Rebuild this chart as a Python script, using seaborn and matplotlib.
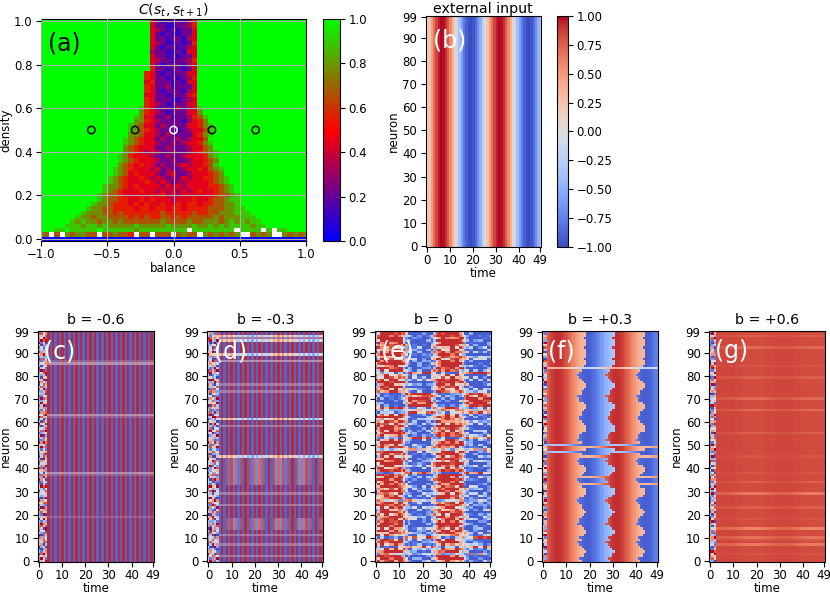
import numpy as np
import matplotlib
matplotlib.use("Agg")
import matplotlib.pyplot as plt
from matplotlib.colors import LinearSegmentedColormap
import seaborn as sns

# ---------------- data ----------------
# (a) C(s_t, s_t+1) on the balance x density grid.
# one string per density row, top = density 1.00, bottom = 0.00
# digit d -> value d/9, '.' -> no data (white)
corr_rows = [
    "9999999999 9999999999 9421212134 9999999999 99999999999",
    "9999999999 9999999999 9422112235 9999999999 99999999999",
    "9999999999 9999999999 9432121224 9999999999 99999999999",
    "9999999999 9999999999 9421211224 9999999999 99999999999",
    "9999999999 9999999999 9422122134 9999999999 99999999999",
    "9999999999 9999999999 9432112125 9999999999 99999999999",
    "9999999999 9999999999 9421221234 9999999999 99999999999",
    "9999999999 9999999999 9322112144 9999999999 99999999999",
    "9999999999 9999999999 9422121224 9999999999 99999999999",
    "9999999999 9999999999 9432212235 9999999999 99999999999",
    "9999999999 9999999999 9421222134 9999999999 99999999999",
    "9999999999 9999999999 9522122124 9999999999 99999999999",
    "9999999999 9999999999 5421212244 9999999999 99999999999",
    "9999999999 9999999999 5422121235 9999999999 99999999999",
    "9999999999 9999999999 4522212144 9999999999 99999999999",
    "9999999999 9999999999 5422312224 9999999999 99999999999",
    "9999999999 9999999999 5421222134 9999999999 99999999999",
    "9999999999 9999999999 4422122245 9999999999 99999999999",
    "9999999999 9999999999 5422211234 9999999999 99999999999",
    "9999999999 9999999999 5432122244 9999999999 99999999999",
    "9999999999 9999999998 5422213234 8999999999 99999999999",
    "9999999999 9999999997 5432122244 7999999999 99999999999",
    "9999999999 9999999987 4422312235 6899999999 99999999999",
    "9999999999 9999999977 5432222134 5799999999 99999999999",
    "9999999999 9999999876 4423222244 5789999999 99999999999",
    "9999999999 9999999876 5432221234 4689999999 99999999999",
    "9999999999 9999999776 4432322224 5789999999 99999999999",
    "9999999999 9999998765 4423223234 4699999999 99999999999",
    "9999999999 9999998765 4432232344 5789999999 99999999999",
    "9999999999 9999997654 4422322234 4679999999 99999999999",
    "9999999999 9999997654 3432232234 5678999999 99999999999",
    "9999999999 9999987544 4322322344 4578999999 99999999999",
    "9999999999 9999987654 4432232234 4567999999 99999999999",
    "9999999999 9999976545 4423223434 4568999999 99999999999",
    "9999999999 9999876544 4342322344 5467899999 99999999999",
    "9999999999 9999876454 4432342234 4456799999 99999999999",
    "9999999999 9998765445 4343232434 4556789999 99999999999",
    "9999999999 9998765444 5434323344 4456789999 99999999999",
    "9999999999 9987765454 4443434344 4455678999 99999999999",
    "9999999999 9987654445 4434343434 5445678999 99999999999",
    "9999999999 9876654444 4445343444 4445667899 99999999999",
    "9999999999 9876655445 4544434445 4456678899 99999999999",
    "9999999999 8776555454 5445445455 4556677899 99999999999",
    "9999999998 7766555545 5455455455 5566677889 99999999999",
    "9999999987 7766565555 5556555556 5566777888 99999999999",
    "9999999877 6776666565 6556656566 6667677788 89999999999",
    "9999998787 7677676666 6667666676 6777678787 88999999999",
    "9999988878 8787777787 7777877778 7787878888 78899999999",
    "9998898888 8988888878 88888888.8 8888888.88 88.8.889999",
    "76.6.76776 6.667665.6 6.666.6766 .7676767.. 6767..76767",
    "0000000000 0000000000 0000000000 0000000000 00000000000",
]
balance_step = 0.04
density_step = 0.02
balance_ticks = [-1.0, -0.5, 0.0, 0.5, 1.0]
density_ticks = [0.0, 0.2, 0.4, 0.6, 0.8, 1.0]
marked_balance = [-0.62, -0.29, 0.0, 0.29, 0.62]
marked_colors = ["black", "black", "white", "black", "black"]
marked_density = 0.5

# (b) external input per time step (same for all neurons)
ext_input = [0.00, 0.25, 0.48, 0.68, 0.84, 0.95, 1.00, 0.98, 0.90, 0.77,
             0.59, 0.37, 0.13, -0.13, -0.37, -0.59, -0.77, -0.90, -0.98, -1.00,
             -0.95, -0.84, -0.68, -0.48, -0.25, 0.00, 0.25, 0.48, 0.68, 0.84,
             0.95, 1.00, 0.98, 0.90, 0.77, 0.59, 0.37, 0.13, -0.13, -0.37,
             -0.59, -0.77, -0.90, -0.98, -1.00, -0.95, -0.84, -0.68, -0.48, -0.25]

# scrambled start states (first time steps), digit d -> (d - 4.5) / 4.5
start_cols = [
    "8270419365194827360573028591460647193825951830274630826154796194073852285714096347193680250385927614",
    "3958102746702468915318693570245390172846824706351967139284050485716392913258476025960418377340195682",
    "5629374018281506739494702831653186549207075391864249280613758061742953157392840668043571293217689540",
    "9146720385438091625706271859438591306742293457061817652498305239817064740813629509814735266452098173",
    "2783560941605734128938149275609265083174417960283585263940173690215748504786139213627490859805136427",
]

# (c) b=-0.6: amplitude of the period-2 flip per neuron (digit/9)
c_amp = ("9999999999" "9999999998" "9999999999" "9999999869" "9999999999"
         "9999999999" "9986999999" "9999999999" "9999968999" "9999999999")
flip_levels = [0.93, -0.88]
# (d) b=-0.3: per neuron flip amplitude, 'b' = beating row, 'w' = pale row
d_rows = ("9979999799" "9799bbbbb9" "9999799997" "999bbbbbbb" "bbbbbw9999"
          "9999999979" "9w99999999" "9997997999" "999999699w" "99999w7w99")
d_envelope = "9999999988" "8778899988" "7778899987" "7788899987" "7788899988"
# (e) b=0: how each neuron follows the input
e_mode = ("pPPoPpmpPp" "mppPpPPPpp" "pPppPpoPpp" "PppPPPpPmP" "ppPpPpPpop"
          "pPpmpPpPPp" "ppPpmopMMM" "MmMppPpPpp" "pmpPpPPppP" "pppPPPPPPP")
e_gain = {"P": 1.0, "p": 0.6, "o": 0.0, "m": -0.6, "M": -1.0}
# (f) b=+0.3: switch times (down, up, down) plus per neuron lag
f_switch = [15, 27, 40]
f_lag = ("2133432102" "1344320112" "3432210134" "4421102234" "4310122344"
         "3201124443" "2112234431" "1022344321" "0123344344" "4434443444")
f_kind = (".........." ".........." ".........." "...r..r..." ".....r.b.r"
          "b........." ".........." ".........." "...w......" "..........")
# (g) b=+0.6: how much lighter each neuron row is
g_dip = ("1112111612" "5111711121" "1113111116" "1111311121" "1111121111"
         "1111131111" "1111141111" "4111111113" "1111211111" "1141111311")

bottom_titles = ["b = -0.6", "b = -0.3", "b = 0", "b = +0.3", "b = +0.6"]
bottom_tags = ["(c)", "(d)", "(e)", "(f)", "(g)"]
time_ticks = [0, 10, 20, 30, 40, 49]
neuron_ticks = [0, 10, 20, 30, 40, 50, 60, 70, 80, 90, 99]


def digits(s):
    return np.array([int(ch) for ch in s], dtype=float)


# ---------------- build matrices ----------------
rows = [r.replace(" ", "") for r in corr_rows]
corr = np.array([[np.nan if ch == "." else int(ch) / 9 for ch in r] for r in rows])[::-1]

ext = np.array(ext_input)
n_neuron, n_time = 100, len(ext)
t = np.arange(n_time)
start = (np.array([digits(c) for c in start_cols]).T - 4.5) / 4.5
flip = np.where(t % 2 == 0, flip_levels[0], flip_levels[1])

input_img = np.tile(ext, (n_neuron, 1))

state_c = digits(c_amp)[:, None] / 9 * flip[None, :]
state_c[:, :4] = start[:, :4]

env_d = digits(d_envelope) / 9
state_d = np.zeros((n_neuron, n_time))
for i, ch in enumerate(d_rows):
    if ch == "b":
        state_d[i] = env_d * flip
    elif ch == "w":
        state_d[i] = 0.35 * ext + 0.2 * np.sign(flip)
    else:
        state_d[i] = int(ch) / 9 * flip
state_d[:, :5] = start[:, [2, 3, 4, 0, 1]]

gain_e = np.array([e_gain[ch] for ch in e_mode])
drive = np.clip(1.8 * ext, -1, 1)
streaks = np.repeat(start, 2, axis=1)
speckle = np.hstack([np.roll(streaks, 23 * k, axis=0) for k in range(5)])[:, :n_time]
state_e = np.clip(1.2 * (gain_e[:, None] * drive[None, :] + 0.6 * speckle), -0.92, 0.92)
state_e[:, 0] = start[:, 4]

lag = digits(f_lag)
state_f = np.zeros((n_neuron, n_time))
for i, ch in enumerate(f_kind):
    if ch == "r":
        up = np.ones(n_time)
    elif ch == "b":
        up = -np.ones(n_time)
    elif ch == "w":
        up = np.full(n_time, 0.15)
    else:
        d1, u2, d2 = (s + lag[i] for s in f_switch)
        up = np.where((t < d1) | ((t >= u2) & (t < d2)), 1.0, -1.0)
    state_f[i] = 0.62 * up + 0.3 * ext
state_f[:, :2] = start[:, [4, 0]]

dip = digits(g_dip) / 9 * 0.35
state_g = 0.86 - dip[:, None] * (0.5 + 0.25 * (1 - ext[None, :]))
state_g[:, :3] = start[::-1][:, [3, 1, 2]]

states = [np.clip(s, -1, 1) for s in (state_c, state_d, state_e, state_f, state_g)]

# ---------------- style ----------------
sns.set_theme(style="ticks", rc={
    "font.size": 8.5, "axes.labelsize": 8.5, "axes.titlesize": 10.2,
    "xtick.labelsize": 8.5, "ytick.labelsize": 8.5,
    "axes.edgecolor": "black", "axes.linewidth": 0.8,
    "xtick.color": "black", "ytick.color": "black", "text.color": "black",
    "axes.labelcolor": "black", "xtick.major.size": 3.5, "ytick.major.size": 3.5,
    "xtick.major.width": 0.8, "ytick.major.width": 0.8,
    "xtick.major.pad": 1.5, "ytick.major.pad": 2.5,
})
plt.rcParams["font.family"] = ["DejaVu Sans"]

fig = plt.figure(figsize=(8.3, 5.94), dpi=100)
ax_a = fig.add_axes([0.0494, 0.5943, 0.3193, 0.3737])
cax_a = fig.add_axes([0.3892, 0.5943, 0.0205, 0.3737])
ax_b = fig.add_axes([0.5129, 0.5842, 0.1389, 0.3889])
cax_b = fig.add_axes([0.6707, 0.5842, 0.0140, 0.3889])
bottom_lefts = [0.0454, 0.2498, 0.4518, 0.6530, 0.8542]
bottom_axes = [fig.add_axes([l, 0.0539, 0.1398, 0.3889]) for l in bottom_lefts]

# ---- (a)
cmap_a = LinearSegmentedColormap.from_list("brg", ["blue", "red", "lime"])
sns.heatmap(corr, ax=ax_a, cmap=cmap_a, vmin=0, vmax=1, cbar_ax=cax_a,
            cbar_kws={"ticks": [0.0, 0.2, 0.4, 0.6, 0.8, 1.0]},
            xticklabels=False, yticklabels=False)


def bal_pos(b):
    return (b + 1) / balance_step + 0.5


def dens_pos(d):
    return d / density_step + 0.5


ax_a.set_xlim(bal_pos(-1.0), bal_pos(1.0))
ax_a.set_ylim(0, len(rows))
ax_a.set_xticks([bal_pos(b) for b in balance_ticks],
                labels=[f"{b:.1f}".replace("-", "\u2212") for b in balance_ticks])
ax_a.set_yticks([dens_pos(d) for d in density_ticks],
                labels=[f"{d:.1f}" for d in density_ticks])
ax_a.tick_params(axis="both", labelrotation=0)
for sp in ax_a.spines.values():
    sp.set_visible(True)
    sp.set_linewidth(0.8)
ax_a.set_axisbelow(False)
ax_a.grid(True, color="#b0b0b0", linewidth=0.8)
ax_a.scatter([bal_pos(b) for b in marked_balance], [dens_pos(marked_density)] * len(marked_balance),
             facecolors="none", edgecolors=marked_colors, s=28, linewidths=1.1, zorder=3)
ax_a.set_xlabel("balance", labelpad=1)
ax_a.set_ylabel("density", labelpad=1)
ax_a.set_title(r"$C(s_t, s_{t+1})$", pad=3)
ax_a.text(0.026, 0.945, "(a)", transform=ax_a.transAxes, fontsize=17, color="black",
          ha="left", va="top")
cb_a = ax_a.collections[0].colorbar
cb_a.outline.set_visible(True)
cb_a.outline.set_linewidth(0.8)
cb_a.outline.set_edgecolor("black")


def draw_state(ax, img, title, tag, pad=5):
    im = ax.imshow(img, cmap="coolwarm", vmin=-1, vmax=1, aspect="auto", origin="lower",
                   interpolation="nearest")
    ax.set_xticks(time_ticks)
    ax.set_yticks(neuron_ticks)
    ax.set_xlabel("time", labelpad=0)
    ax.set_ylabel("neuron", labelpad=2)
    ax.set_title(title, pad=pad)
    ax.text(0.055, 0.965, tag, transform=ax.transAxes, fontsize=17, color="white",
            ha="left", va="top")
    return im


# ---- (b)
im_b = draw_state(ax_b, input_img, "external input", "(b)", pad=1.5)
ax_b.texts[0].set_position((0.066, 0.947))
cb_b = fig.colorbar(im_b, cax=cax_b, ticks=[-1, -0.75, -0.5, -0.25, 0, 0.25, 0.5, 0.75, 1])
cb_b.outline.set_linewidth(0.8)

# ---- (c)-(g)
for ax, img, title, tag in zip(bottom_axes, states, bottom_titles, bottom_tags):
    draw_state(ax, img, title, tag)

fig.savefig("out.png", dpi=100)
